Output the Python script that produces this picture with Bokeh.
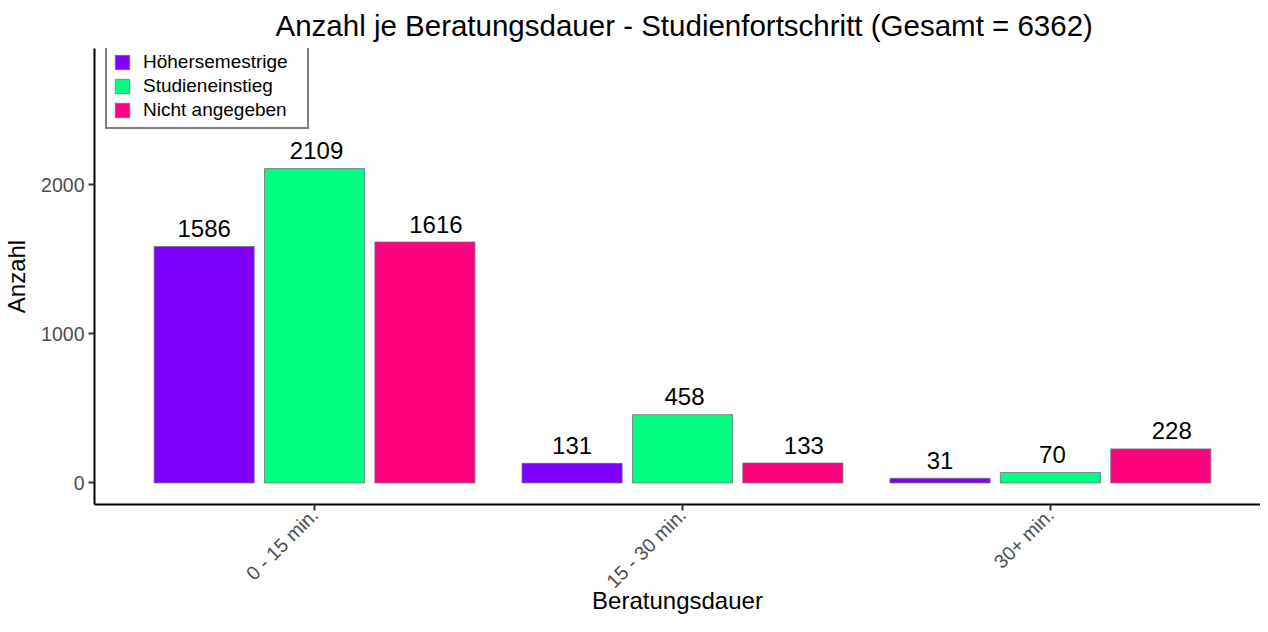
import math
from bokeh.plotting import figure
from bokeh.models import ColumnDataSource, Range1d, FixedTicker, Legend, LegendItem
from bokeh.embed import file_html
from bokeh.resources import INLINE
from bokeh.core.properties import value

categories = ["0 - 15 min.", "15 - 30 min.", "30+ min."]
series = ["Höhersemestrige", "Studieneinstieg", "Nicht angegeben"]
hoehersemestrige = [1586, 131, 31]
studieneinstieg = [2109, 458, 70]
nicht_angegeben = [1616, 133, 228]
y_ticks = [0, 1000, 2000]
title_text = "Anzahl je Beratungsdauer - Studienfortschritt (Gesamt = 6362)"

colors = ["#8000FF", "#00FF80", "#FF0080"]
offsets = [-0.3, 0.0, 0.3]
label_px = [0, 2, 11]
FONT = "Liberation Sans"

p = figure(width=1260, height=616, output_backend="svg", toolbar_location=None,
           x_range=Range1d(0.402, 3.571), y_range=Range1d(-145, 2915),
           title=title_text, min_border_left=0, min_border_right=0,
           min_border_top=0, min_border_bottom=0)
p.outline_line_color = None
p.xgrid.grid_line_color = None
p.ygrid.grid_line_color = None

p.title.align = "left"
p.title.offset = 181
p.title.text_font = FONT
p.title.text_font_size = "29.5px"
p.title.text_font_style = "normal"
p.title.text_color = "black"
p.title.standoff = 13

items = []
for vals, name, col, off, lp in zip([hoehersemestrige, studieneinstieg, nicht_angegeben],
                                     series, colors, offsets, label_px):
    xs = [i + 1 + off for i in range(len(categories))]
    src = ColumnDataSource(dict(x=xs, top=vals, lab=[str(v) for v in vals]))
    r = p.vbar(x="x", top="top", bottom=0, width=0.272, source=src,
               fill_color=col, line_color="#707070", line_width=0.8)
    p.text(x="x", y="top", text="lab", source=src, text_align="center",
           text_baseline="alphabetic", y_offset=-18, x_offset=lp,
           text_font=value(FONT), text_font_size="24px", text_color="black")
    items.append(LegendItem(label=name, renderers=[r]))

legend = Legend(items=items, location=(11, 375), orientation="vertical")
legend.label_text_font = FONT
legend.label_text_font_size = "19px"
legend.label_text_color = "black"
legend.glyph_width = 18
legend.glyph_height = 18
legend.label_height = 20
legend.label_width = 158
legend.spacing = 2
legend.label_standoff = 12
legend.padding = 6
legend.margin = 0
legend.border_line_color = "black"
legend.border_line_width = 2
legend.background_fill_color = "white"
legend.background_fill_alpha = 1
p.add_layout(legend, "center")

for ax in (p.xaxis[0], p.yaxis[0]):
    ax.axis_line_color = "black"
    ax.axis_line_width = 2
    ax.major_tick_line_color = "#333333"
    ax.major_tick_line_width = 2
    ax.major_tick_out = 6
    ax.major_tick_in = 0
    ax.minor_tick_line_color = None
    ax.major_label_text_font = FONT
    ax.major_label_text_font_size = "19.5px"
    ax.major_label_text_color = "#4D4D4D"
    ax.axis_label_text_font = FONT
    ax.axis_label_text_font_size = "24px"
    ax.axis_label_text_font_style = "normal"
    ax.axis_label_text_color = "black"

p.yaxis.ticker = FixedTicker(ticks=y_ticks)
p.yaxis.axis_label = "Anzahl"
p.yaxis.major_label_standoff = 4
p.yaxis.axis_label_standoff = 8

p.xaxis.ticker = FixedTicker(ticks=[1, 2, 3])
p.xaxis.major_label_overrides = {i + 1: c for i, c in enumerate(categories)}
p.xaxis.major_label_orientation = math.pi / 4
p.xaxis.axis_label = "Beratungsdauer"
p.xaxis.major_label_standoff = 1
p.xaxis.axis_label_standoff = -16

open("out.html", "w").write(file_html(p, INLINE))
